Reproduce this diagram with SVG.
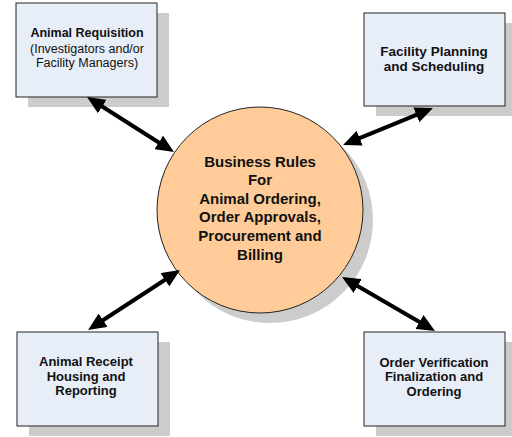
<svg xmlns="http://www.w3.org/2000/svg" width="512" height="437" viewBox="0 0 512 437">
<style>
.shadow{fill:#cccccc;stroke:none}
.box{fill:#e8eef8;stroke:#222;stroke-width:1}
.hub{fill:#ffcc99;stroke:#222;stroke-width:1}
text{font-family:"Liberation Sans",Arial,sans-serif;text-anchor:middle;fill:#111}
.b{font-weight:bold}
.conn line{stroke:#000;stroke-width:4;marker-start:url(#ah);marker-end:url(#ah)}
</style>
<defs>
<marker id="ah" markerUnits="userSpaceOnUse" markerWidth="18" markerHeight="16" viewBox="0 -8 18 16" refX="8" refY="0" orient="auto-start-reverse">
<path d="M0,-8 L18,0 L0,8 z" fill="#000"/>
</marker>
</defs>
<rect x="0" y="0" width="512" height="437" fill="#fff"/>
<g id="hub">
<circle class="shadow" cx="270" cy="220" r="103"/>
<circle class="hub" cx="260" cy="210" r="103"/>
<text class="b" font-size="15" x="260" y="167">Business Rules</text>
<text class="b" font-size="15" x="260" y="185">For</text>
<text class="b" font-size="15" x="260" y="204">Animal Ordering,</text>
<text class="b" font-size="15" x="260" y="222">Order Approvals,</text>
<text class="b" font-size="15" x="260" y="241">Procurement and</text>
<text class="b" font-size="15" x="260" y="260">Billing</text>
</g>
<g id="requisition">
<rect class="shadow" x="28" y="13" width="141" height="94"/>
<rect class="box" x="16" y="3" width="141" height="94"/>
<text class="b" font-size="12.5" x="87" y="37">Animal Requisition</text>
<text font-size="12.5" x="87" y="53">(Investigators and/or</text>
<text font-size="12.5" x="87" y="67">Facility Managers)</text>
</g>
<g id="planning">
<rect class="shadow" x="376" y="23" width="141" height="93"/>
<rect class="box" x="364" y="13" width="141" height="93"/>
<text class="b" font-size="13.5" x="434" y="56">Facility Planning</text>
<text class="b" font-size="13.5" x="434" y="71">and Scheduling</text>
</g>
<g id="receipt">
<rect class="shadow" x="29" y="342" width="141" height="94"/>
<rect class="box" x="17" y="332" width="141" height="94"/>
<text class="b" font-size="13" x="86" y="366">Animal Receipt</text>
<text class="b" font-size="13" x="86" y="381">Housing and</text>
<text class="b" font-size="13" x="86" y="395">Reporting</text>
</g>
<g id="verification">
<rect class="shadow" x="376" y="342" width="141" height="94"/>
<rect class="box" x="364" y="332" width="141" height="94"/>
<text class="b" font-size="13" x="434" y="367">Order Verification</text>
<text class="b" font-size="13" x="434" y="381">Finalization and</text>
<text class="b" font-size="13" x="434" y="396">Ordering</text>
</g>
<g id="connectors" class="conn">
<line x1="95.5" y1="102.3" x2="165.5" y2="146.7"/>
<line x1="423.7" y1="111.8" x2="352.3" y2="141.2"/>
<line x1="171.6" y1="275.5" x2="96.4" y2="324.5"/>
<line x1="350.7" y1="282.0" x2="426.4" y2="326.0"/>
</g>
</svg>
